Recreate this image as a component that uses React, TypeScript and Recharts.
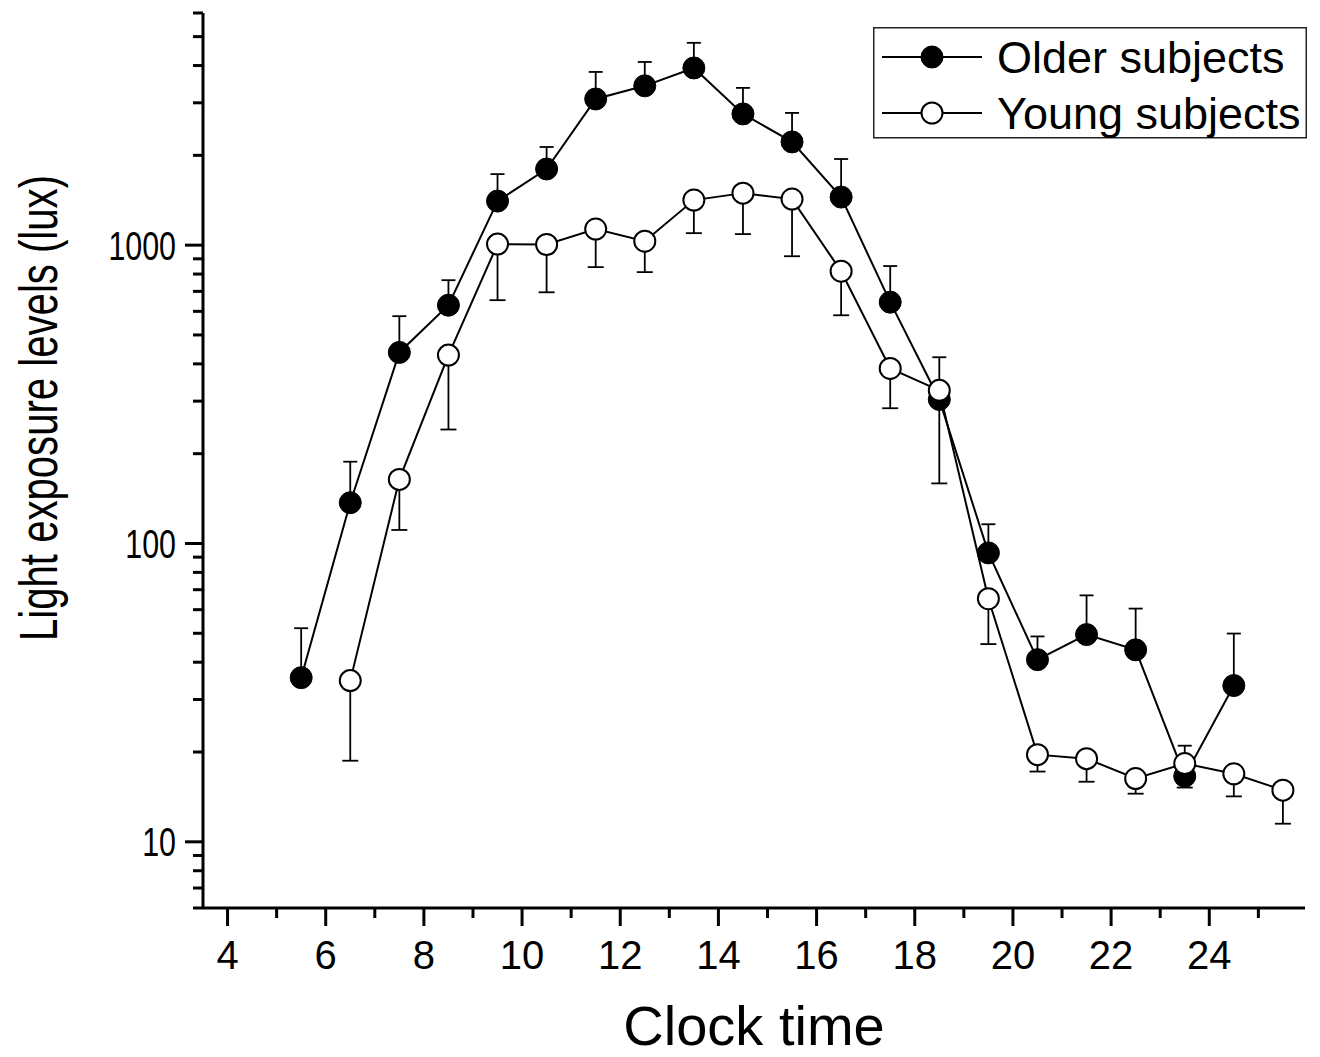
import React from 'react';
import { LineChart, Line, XAxis, YAxis, ErrorBar, Legend, Label } from 'recharts';

// ---- data ----
const hours = [5.5, 6.5, 7.5, 8.5, 9.5, 10.5, 11.5, 12.5, 13.5, 14.5, 15.5, 16.5, 17.5, 18.5, 19.5, 20.5, 21.5, 22.5, 23.5, 24.5, 25.5];
const olderMean = [35.5, 137, 437, 629, 1405, 1800, 3090, 3420, 3926, 2754, 2219, 1449, 644, 304, 93, 40.8, 49.5, 44, 16.6, 33.4, null];
const olderUpper = [52, 188, 578, 763, 1730, 2133, 3807, 4112, 4766, 3366, 2775, 1944, 851, 421, 116, 48.8, 67, 60.5, 21, 49.9, null];
const youngMean = [null, 34.7, 164, 428, 1008, 1005, 1132, 1031, 1416, 1494, 1427, 818, 386, 326, 65.3, 19.6, 19.0, 16.3, 18.3, 16.9, 14.9];
const youngLower = [null, 18.7, 111, 241, 654, 695, 844, 812, 1097, 1089, 918, 582, 284, 159, 46, 17.2, 15.9, 14.5, 15.2, 14.2, 11.5];

const xTicks = [4, 5, 6, 7, 8, 9, 10, 11, 12, 13, 14, 15, 16, 17, 18, 19, 20, 21, 22, 23, 24, 25];
const xMajor = [4, 6, 8, 10, 12, 14, 16, 18, 20, 22, 24];
const yTicks = [6, 7, 8, 9, 10, 20, 30, 40, 50, 60, 70, 80, 90, 100, 200, 300, 400, 500, 600, 700, 800, 900, 1000, 2000, 3000, 4000, 5000, 6000];
const yMajor = [10, 100, 1000];

const seriesNames = ['Older subjects', 'Young subjects'];
const xTitle = 'Clock time';
const yTitle = 'Light exposure levels (lux)';

const data = hours.map((h, i) => ({
  x: h,
  older: olderMean[i],
  olderErr: olderMean[i] == null ? null : [0, (olderUpper[i] as number) - (olderMean[i] as number)],
  young: youngMean[i],
  youngErr: youngMean[i] == null ? null : [(youngMean[i] as number) - (youngLower[i] as number), 0],
}));

// ---- layout ----
const W = 1320;
const H = 1057;
const Y_AXIS_W = 203;
const X_AXIS_H = 149;
const MARGIN = { top: 13, right: 15, left: 0, bottom: 0 };
const PLOT_LEFT = MARGIN.left + Y_AXIS_W;
const PLOT_BOTTOM = H - MARGIN.bottom - X_AXIS_H;
const FONT = '"Liberation Sans", Arial, Helvetica, sans-serif';
const TICK_FONT = 40;
const Y_TICK_CONDENSE = 0.76;

const YTick = (props: any) => {
  const { y, payload } = props;
  const major = yMajor.includes(payload.value);
  const len = major ? 18 : 10;
  const label = String(payload.value);
  return (
    <g>
      <line x1={PLOT_LEFT - len} x2={PLOT_LEFT} y1={y} y2={y} stroke="#000" strokeWidth={3} />
      {major && (
        <text
          x={PLOT_LEFT - 27}
          y={y}
          dy="0.36em"
          textAnchor="end"
          fontSize={TICK_FONT}
          textLength={label.length * 0.556 * TICK_FONT * Y_TICK_CONDENSE}
          lengthAdjust="spacingAndGlyphs"
          fontFamily={FONT}
          fill="#000"
        >
          {label}
        </text>
      )}
    </g>
  );
};

const XTick = (props: any) => {
  const { x, payload } = props;
  const major = xMajor.includes(payload.value);
  const len = major ? 18 : 10;
  return (
    <g>
      <line x1={x} x2={x} y1={PLOT_BOTTOM} y2={PLOT_BOTTOM + len} stroke="#000" strokeWidth={3} />
      {major && (
        <text x={x} y={PLOT_BOTTOM + 32} dy="0.72em" textAnchor="middle" fontSize={TICK_FONT} fontFamily={FONT} fill="#000">
          {payload.value}
        </text>
      )}
    </g>
  );
};

const FilledDot = (props: any) => {
  const { cx, cy, payload, index } = props;
  if (cx == null || cy == null || payload.older == null) return <g key={`fo${index}`} />;
  return <circle key={`fo${index}`} cx={cx} cy={cy} r={11} fill="#000" stroke="#000" strokeWidth={1} />;
};

const OpenDot = (props: any) => {
  const { cx, cy, payload, index } = props;
  if (cx == null || cy == null || payload.young == null) return <g key={`yo${index}`} />;
  return <circle key={`yo${index}`} cx={cx} cy={cy} r={10.5} fill="#fff" stroke="#000" strokeWidth={2} />;
};

const LegendBox = () => {
  const rows = [30, 86];
  return (
    <svg width={434} height={112} style={{ display: 'block' }}>
      <rect x={0.75} y={0.75} width={432.5} height={110} fill="#fff" stroke="#222" strokeWidth={1.5} />
      {seriesNames.map((name, i) => (
        <g key={name}>
          <line x1={9} x2={109} y1={rows[i]} y2={rows[i]} stroke="#000" strokeWidth={2} />
          {i === 0 ? (
            <circle cx={59} cy={rows[i]} r={11} fill="#000" stroke="#000" strokeWidth={1} />
          ) : (
            <circle cx={59} cy={rows[i]} r={10.5} fill="#fff" stroke="#000" strokeWidth={2} />
          )}
          <text x={124} y={rows[i]} dy="0.36em" fontSize={45} fontFamily={FONT} fill="#000">
            {name}
          </text>
        </g>
      ))}
    </svg>
  );
};

export default function App() {
  return (
    <div style={{ position: 'absolute', left: 0, top: 0, width: W, height: H, background: '#fff' }}>
      <LineChart width={W} height={H} data={data} margin={MARGIN}>
        <XAxis
          dataKey="x"
          type="number"
          domain={[3.5, 25.95]}
          allowDataOverflow
          ticks={xTicks}
          interval={0}
          tick={<XTick />}
          tickLine={false}
          axisLine={{ stroke: '#000', strokeWidth: 3 }}
          height={X_AXIS_H}
        >
          <Label
            content={() => (
              <text x={(PLOT_LEFT + W - MARGIN.right) / 2} y={1045} textAnchor="middle" fontSize={56} fontFamily={FONT} fill="#000">
                {xTitle}
              </text>
            )}
          />
        </XAxis>
        <YAxis
          type="number"
          scale="log"
          domain={[6, 6000]}
          allowDataOverflow
          ticks={yTicks}
          interval={0}
          tick={<YTick />}
          tickLine={false}
          axisLine={{ stroke: '#000', strokeWidth: 3 }}
          width={Y_AXIS_W}
        >
          <Label
            content={() => (
              <text
                x={0}
                y={0}
                transform={`translate(57, 408) rotate(-90)`}
                textAnchor="middle"
                fontSize={53}
                textLength={466}
                lengthAdjust="spacingAndGlyphs"
                fontFamily={FONT}
                fill="#000"
              >
                {yTitle}
              </text>
            )}
          />
        </YAxis>
        <Legend
          layout="vertical"
          align="center"
          verticalAlign="middle"
          content={() => <LegendBox />}
          wrapperStyle={{ position: 'absolute', left: 873, top: 27, width: 434, height: 112 }}
        />
        <Line
          dataKey="older"
          type="linear"
          stroke="#000"
          strokeWidth={2}
          dot={<FilledDot />}
          activeDot={false}
          isAnimationActive={false}
          connectNulls={false}
        >
          <ErrorBar dataKey="olderErr" direction="y" width={7} stroke="#000" strokeWidth={1.8} />
        </Line>
        <Line
          dataKey="young"
          type="linear"
          stroke="#000"
          strokeWidth={2}
          dot={<OpenDot />}
          activeDot={false}
          isAnimationActive={false}
          connectNulls={false}
        >
          <ErrorBar dataKey="youngErr" direction="y" width={8} stroke="#000" strokeWidth={1.8} />
        </Line>
      </LineChart>
    </div>
  );
}
